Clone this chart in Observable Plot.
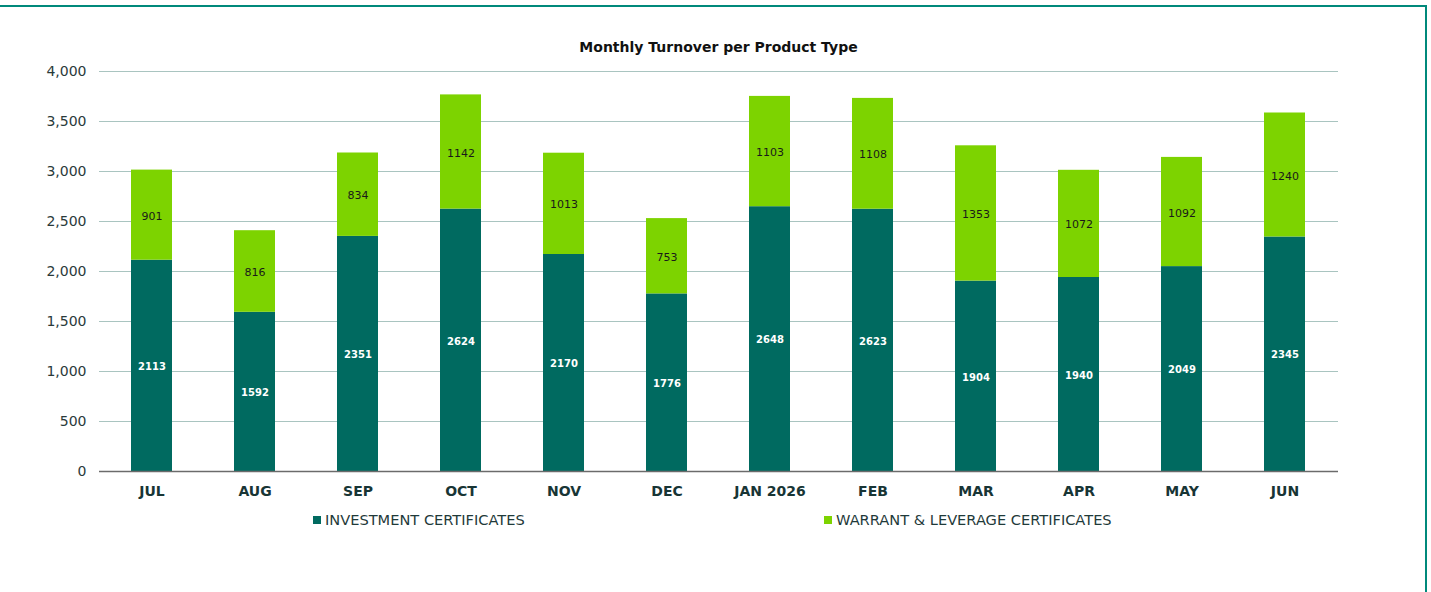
<!DOCTYPE html>
<html>
<head>
<meta charset="utf-8">
<script src="https://cdn.jsdelivr.net/npm/d3@7"></script>
<script src="https://cdn.jsdelivr.net/npm/@observablehq/plot@0.6"></script>
<style>
  html, body { margin: 0; padding: 0; background: #fff; }
  body { width: 1431px; height: 592px; position: relative; overflow: hidden; font-family: "DejaVu Sans", Verdana, sans-serif; }
  #frame { position: absolute; left: -10px; top: 5px; width: 1437px; height: 600px; border-top: 2px solid #00897b; border-right: 2px solid #00897b; box-sizing: border-box; }
  #chart { position: absolute; left: 0; top: 0; }
  #title { position: absolute; top: 39px; left: 0; width: 1437px; text-align: center; font-weight: bold; font-size: 14px; color: #111; }
  .leg { position: absolute; top: 511px; font-size: 14.6px; color: #1f3a3a; display: flex; align-items: center; }
  .sw { width: 8px; height: 8px; margin-right: 4px; display: inline-block; }
</style>
</head>
<body>
<div id="frame"></div>
<div id="chart"></div>
<div id="title">Monthly Turnover per Product Type</div>
<div id="legend"></div>
<script>
const months = ["JUL","AUG","SEP","OCT","NOV","DEC","JAN 2026","FEB","MAR","APR","MAY","JUN"];
const investment = [2113,1592,2351,2624,2170,1776,2648,2623,1904,1940,2049,2345];
const warrant = [901,816,834,1142,1013,753,1103,1108,1353,1072,1092,1240];
const seriesNames = ["INVESTMENT CERTIFICATES","WARRANT & LEVERAGE CERTIFICATES"];
const seriesColors = ["#006a60","#7dd300"];
const yTicks = [0,500,1000,1500,2000,2500,3000,3500,4000];

const data = [];
months.forEach((m, i) => {
  data.push({month: m, type: seriesNames[0], value: investment[i]});
  data.push({month: m, type: seriesNames[1], value: warrant[i]});
});

const plot = Plot.plot({
  width: 1431,
  height: 592,
  marginLeft: 99,
  marginRight: 93,
  marginTop: 71,
  marginBottom: 121,
  style: {fontFamily: "DejaVu Sans, Verdana, sans-serif", background: "transparent"},
  x: {domain: months, paddingInner: 0.6, paddingOuter: 0.3, align: 0.5, label: null, tickSize: 0, tickPadding: 15},
  y: {domain: [0, 4000], ticks: yTicks, tickFormat: d3.format(","), label: null, tickSize: 0, tickPadding: 13},
  color: {domain: seriesNames, range: seriesColors},
  marks: [
    Plot.ruleY(yTicks.filter(t => t > 0), {stroke: "#a9c4c0", strokeWidth: 1}),
    Plot.barY(data, Plot.stackY({x: "month", y: "value", fill: "type", order: seriesNames})),
    Plot.text(data, Plot.stackY({x: "month", y: "value", z: "type", order: seriesNames,
      text: d => d.type === seriesNames[0] ? String(d.value) : "",
      fill: "white", fontWeight: "bold", fontSize: 10, dy: 1})),
    Plot.text(data, Plot.stackY({x: "month", y: "value", z: "type", order: seriesNames,
      text: d => d.type === seriesNames[1] ? String(d.value) : "",
      fill: "#1a1a1a", fontSize: 11, dy: 1})),
    Plot.ruleY([0], {stroke: "#6b6b6b", strokeWidth: 1.5})
  ]
});
plot.querySelectorAll('[aria-label="y-axis tick label"]').forEach(el => {
  el.setAttribute("font-size", "14"); el.setAttribute("fill", "#2a3a3a");
});
plot.querySelectorAll('[aria-label="x-axis tick label"]').forEach(el => {
  el.setAttribute("font-size", "14"); el.setAttribute("font-weight", "bold"); el.setAttribute("fill", "#183535");
});
document.getElementById("chart").appendChild(plot);

const legend = document.getElementById("legend");
const legX = [313, 824];
seriesNames.forEach((n, i) => {
  const d = document.createElement("div");
  d.className = "leg";
  d.style.left = legX[i] + "px";
  d.innerHTML = `<span class="sw" style="background:${seriesColors[i]}"></span><span></span>`;
  d.lastChild.textContent = n;
  legend.appendChild(d);
});
</script>
</body>
</html>
